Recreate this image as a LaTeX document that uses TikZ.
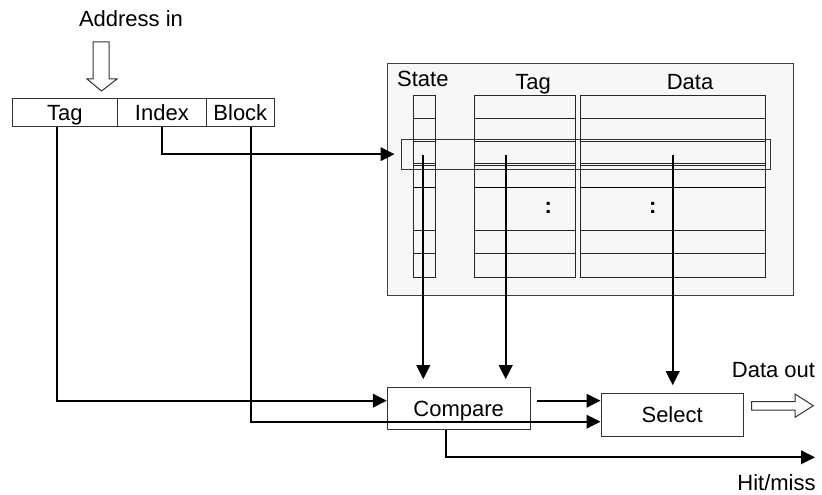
\documentclass[tikz,border=0pt]{standalone}
\usepackage{fontspec}
\setmainfont{Liberation Sans}
\usetikzlibrary{arrows.meta,calc}
\begin{document}
\begin{tikzpicture}[x=1pt,y=-1pt,
  txt/.style={font=\fontsize{22}{25}\selectfont, inner sep=0pt},
  field/.style={txt, draw=black!80, line width=1pt, minimum height=28pt,
                text height=15.7pt, text depth=0pt},
  unit/.style={txt, draw=black!80, line width=1pt, text height=15.7pt, text depth=0pt},
  column/.style={draw=black!85, line width=1pt, inner sep=0pt, minimum height=182.3pt},
  wire/.style={line width=2.3pt, -{Triangle[length=14pt,width=13.5pt]}},
  hollow/.style={draw=black!80, line width=1pt, fill=white, line join=miter}]
\useasboundingbox (0,0) rectangle (822,495);

% incoming address and its fields
\node[txt, anchor=base] (addr) at (131,26.7) {Address in};
\draw[hollow] (93,42) -- (109,42) -- (109,79) -- (117,79) -- (101.5,91)
  -- (87,79) -- (93,79) -- cycle;
\node[field, minimum width=104.3pt] (tagf) at (64.85,112.7) {Tag};
\node[field, minimum width=89.7pt]  (idxf) at (161.85,112.7) {Index};
\node[field, minimum width=67.3pt]  (blkf) at (240.35,112.7) {Block};

% cache array
\node[draw=black!75, line width=1pt, fill=black!3, inner sep=0pt,
      minimum width=406pt, minimum height=232.4pt] (mem) at (590.3,179.5) {};
\node[txt, anchor=base] (lstate) at (422.8,86)   {State};
\node[txt, anchor=base] (ltag)   at (533,89.3)   {Tag};
\node[txt, anchor=base] (ldata)  at (690,89.3)   {Data};
\node[column, minimum width=22.4pt]  (stc) at (424.5,186.15) {};
\node[column, minimum width=100.7pt] (tgc) at (524.65,186.15) {};
\node[column, minimum width=185.4pt] (dtc) at (673,186.15) {};
\foreach \c in {stc,tgc,dtc}{
  \foreach \y in {118.3,141.7,163.3,165,230,253.3}
    \draw[black!85, line width=1pt] (\c.west |- 0,\y) -- (\c.east |- 0,\y);
  \draw[black, line width=1.6pt] (\c.west |- 0,187.3) -- (\c.east |- 0,187.3);
}
\node[txt, anchor=base] (dots1) at (548.3,213.5) {\textbf{:}};
\node[txt, anchor=base] (dots2) at (652.7,213.5) {\textbf{:}};
\node[draw=black!80, line width=1pt, inner sep=0pt,
      minimum width=369pt, minimum height=29.7pt] (hl) at (586.2,154.15) {};

% compare and select units
\node[unit, minimum width=142.7pt, minimum height=41.3pt] (cmp) at (458.65,408.35) {Compare};
\node[unit, minimum width=142.3pt, minimum height=42.7pt] (sel) at (672.15,414.65) {Select};

% outputs
\node[txt, anchor=base] (dout) at (773.5,377) {Data out};
\draw[hollow] (751.7,401.7) -- (795,401.7) -- (795,394) -- (813.3,405.7)
  -- (795,417.3) -- (795,410) -- (751.7,410) -- cycle;
\node[txt, anchor=base] (hmiss) at (776.5,490) {Hit/miss};
\coordinate (hmend) at (815,457.3);

% wiring
\draw[wire] ([xshift=-7.55pt]tagf.south) |- ([yshift=7.65pt]cmp.west);
\draw[wire, shorten >=6.7pt] (idxf.south) |- (hl.west);
\draw[wire] ([xshift=10.65pt]blkf.south) |- ([yshift=-7.05pt]sel.west);
\coordinate (c2s) at ([xshift=6.7pt,yshift=7.65pt]cmp.east);
\draw[wire] (c2s) -- (c2s -| sel.west);
\draw[wire] ([xshift=-12.95pt]cmp.south) |- (hmend);
\coordinate (stline) at (423.3,155);
\coordinate (tgline) at (505.7,155);
\coordinate (dtline) at (672.7,155);
\draw[wire, shorten >=8pt] (stline) -- (stline |- cmp.north);
\draw[wire, shorten >=8pt] (tgline) -- (tgline |- cmp.north);
\draw[wire, shorten >=7.6pt] (dtline) -- (dtline |- sel.north);
\end{tikzpicture}
\end{document}
